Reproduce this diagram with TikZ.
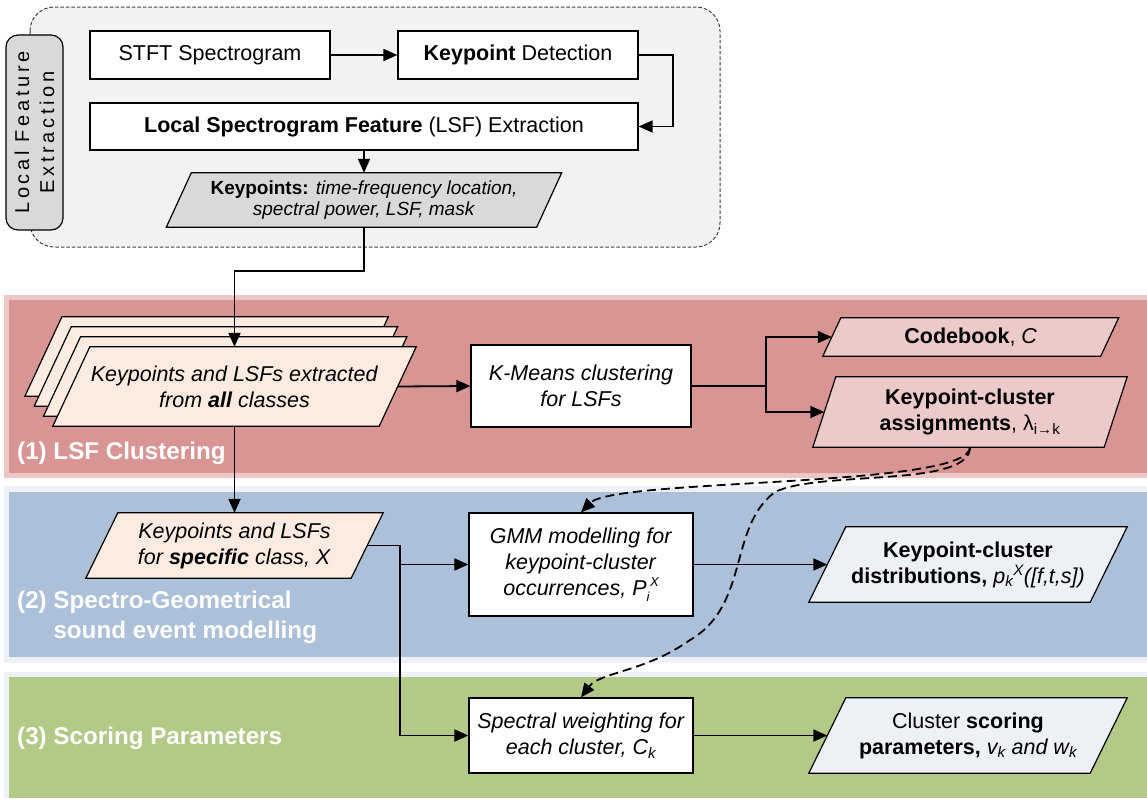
\documentclass[tikz,border=0pt]{standalone}
\usepackage{fontspec}
\setmainfont{Liberation Sans}
\newfontfamily\spacedfont[LetterSpace=18]{Liberation Sans}
\usetikzlibrary{arrows.meta}
\pgfdeclarelayer{bandlayer}
\pgfdeclarelayer{shapelayer}
\pgfsetlayers{bandlayer,shapelayer,main}
\definecolor{bandred}{HTML}{D99594}
\definecolor{ringred}{HTML}{EBC7C6}
\definecolor{bandblue}{HTML}{ADC0D9}
\definecolor{ringblue}{HTML}{EEF2F7}
\definecolor{bandgreen}{HTML}{B3C987}
\definecolor{ringgreen}{HTML}{EEF2F5}
\definecolor{groupgray}{HTML}{F2F2F2}
\definecolor{kpgray}{HTML}{D9D9D9}
\definecolor{peach}{HTML}{FCEBE0}
\definecolor{pinkout}{HTML}{EBCAC9}
\definecolor{blueout}{HTML}{EDF1F6}
\newcommand{\mainsz}{\fontsize{21.5}{26}\selectfont}
\newcommand{\kpsz}{\fontsize{19}{21.5}\selectfont}
\newcommand{\bandsz}{\fontsize{24.2}{30}\selectfont}
\newcommand{\subsup}[2]{\raisebox{-0.3em}{\fontsize{13}{13}\selectfont #1}\kern0.02em\raisebox{0.42em}{\fontsize{13}{13}\selectfont #2}}
\newcommand{\paral}[5]{%
  \path[draw=black, line width=1.2pt, fill=#3]
    ([xshift=#4+#2, yshift=#5]#1.north west) --
    ([xshift=#4+#2, yshift=#5]#1.north east) --
    ([xshift=#4-#2, yshift=#5]#1.south east) --
    ([xshift=#4-#2, yshift=#5]#1.south west) -- cycle;}
\tikzset{
  box/.style={draw=black, line width=1.2pt, fill=white, align=center, inner sep=2pt, font=\mainsz},
  paranode/.style={align=center, inner sep=0pt, font=\mainsz},
  conn/.style={line width=1.8pt, -{Triangle[length=14pt,width=12pt]}},
  dashconn/.style={line width=1.8pt, dash pattern=on 9pt off 5pt, -{Triangle[length=14pt,width=12pt]}},
  bandlabel/.style={text=white, font=\bandsz\bfseries, anchor=west, inner sep=0pt, align=left},
  lfebox/.style={draw=black, line width=1.2pt, fill=kpgray, rounded corners=12pt, rotate=90, align=center, font=\spacedfont\fontsize{20}{25}\selectfont, inner sep=0pt},
}
\begin{document}
\begin{tikzpicture}[x=1pt, y=-1pt]
\useasboundingbox (0,0) rectangle (1147,798);

% ---------- bands and group ----------
\begin{pgfonlayer}{bandlayer}
  \fill[ringred] (4,295) rectangle (1147,478);
  \fill[bandred] (9,300) rectangle (1147,473);
  \fill[ringblue] (4,486) rectangle (1147,663);
  \fill[bandblue] (9,492) rectangle (1147,657);
  \fill[ringgreen] (4,672) rectangle (1147,798);
  \fill[bandgreen] (9,677) rectangle (1147,798);
  \draw[draw=black!75, dash pattern=on 3.5pt off 2pt, line width=1pt, fill=groupgray, rounded corners=24pt] (30,7) rectangle (720,247);
\end{pgfonlayer}

% ---------- top section ----------
\node[lfebox, minimum width=195pt, minimum height=57pt] (lfe) at (34.5,132.5) {Local Feature\\Extraction};
\node[box, minimum width=240pt, minimum height=48pt] (stft) at (210,55) {STFT Spectrogram};
\node[box, minimum width=240pt, minimum height=48pt] (kpd) at (518,55) {\textbf{Keypoint} Detection};
\node[box, minimum width=548pt, minimum height=47pt] (lsf) at (364,126.5) {\textbf{Local Spectrogram Feature} (LSF) Extraction};
\node[paranode, font=\kpsz, minimum width=370pt, minimum height=54pt] (kp) at (364,200)
  {\textbf{Keypoints:} \textit{time-frequency location,}\\\textit{spectral power, LSF, mask}};

% ---------- band 1 ----------
\node[paranode, minimum width=326pt, minimum height=79pt] (all) at (234.5,386.5)
  {\textit{Keypoints and LSFs extracted}\\\textit{from \textbf{all} classes}};
\node[box, minimum width=220pt, minimum height=82pt] (km) at (581,386) {\textit{K-Means clustering}\\\textit{for LSFs}};
\node[paranode, minimum width=277.5pt, minimum height=38pt] (cb) at (970.75,337) {\textbf{Codebook}, \textit{C}};
\node[paranode, minimum width=291pt, minimum height=70pt] (asg) at (970,412)
  {\textbf{Keypoint-cluster}\\\textbf{assignments}, λ\textsubscript{i→k}};

% ---------- band 2 ----------
\node[paranode, minimum width=265pt, minimum height=65pt] (sx) at (234.5,545.5)
  {\textit{Keypoints and LSFs}\\\textit{for \textbf{specific} class, X}};
\node[box, minimum width=224pt, minimum height=103pt] (gmm) at (581,564.5)
  {\textit{GMM modelling for}\\\textit{keypoint-cluster}\\\textit{occurrences, P\subsup{i}{X}}};
\node[paranode, minimum width=281pt, minimum height=75pt] (dist) at (968,564.5)
  {\textbf{Keypoint-cluster}\\\textbf{distributions,} \textit{p\textsubscript{k}\textsuperscript{X}([f,t,s])}};

% ---------- band 3 ----------
\node[box, minimum width=224pt, minimum height=75pt] (spw) at (581,735.5)
  {\textit{Spectral weighting for}\\\textit{each cluster, C\textsubscript{k}}};
\node[paranode, minimum width=281pt, minimum height=75pt] (csp) at (968,735.5)
  {Cluster \textbf{scoring}\\\textbf{parameters,} \textit{v\textsubscript{k} and w\textsubscript{k}}};

% ---------- band labels ----------
\node[bandlabel] (l1) at (17,453) {(1) LSF Clustering};
\node[bandlabel] (l2) at (17,617) {\begin{tabular}{@{}l@{ }l@{}}(2)&Spectro-Geometrical\\&sound event modelling\end{tabular}};
\node[bandlabel] (l3) at (17,738) {(3) Scoring Parameters};

% ---------- parallelogram outlines ----------
\begin{pgfonlayer}{shapelayer}
  \paral{kp}{12.5pt}{kpgray}{0pt}{0pt}
  \paral{all}{18.5pt}{peach}{-27.9pt}{30pt}
  \paral{all}{18.5pt}{peach}{-18.6pt}{20pt}
  \paral{all}{18.5pt}{peach}{-9.3pt}{10pt}
  \paral{all}{18.5pt}{peach}{0pt}{0pt}
  \paral{cb}{9pt}{pinkout}{0pt}{0pt}
  \paral{asg}{11.5pt}{pinkout}{0pt}{0pt}
  \paral{sx}{16pt}{peach}{0pt}{0pt}
  \paral{dist}{18.5pt}{blueout}{0pt}{0pt}
  \paral{csp}{18.5pt}{blueout}{0pt}{0pt}
\end{pgfonlayer}

% ---------- connectors ----------
\draw[conn] (stft.east) -- (kpd.west);
\draw[conn] (kpd.east) -- ++(34,0) |- (lsf.east);
\draw[conn] (lsf.south) -- (kp.north);
\draw[conn] (kp.south) -- ++(0,44) -| (all.north);
\draw[conn] (all.east) -- (km.west);
\draw[conn] (km.east) -- ++(74.5,0) |- (cb.west);
\draw[conn] (km.east) -- ++(74.5,0) |- (asg.west);
\draw[conn] (all.south) -- (sx.north);
\draw[conn] (sx.east) -- ++(33,0) |- (gmm.west);
\draw[conn] (sx.east) -- ++(33,0) |- (spw.west);
\draw[conn] (gmm.east) -- (dist.west);
\draw[conn] (spw.east) -- (csp.west);
\draw[dashconn] (asg.south) .. controls (970,488) and (615,478) .. (gmm.north);
\draw[dashconn] (asg.south) .. controls (970,488) and (820,470) .. (775,492)
   .. controls (728,527) and (750,605) .. (690,640)
   .. controls (645,672) and (600,672) .. (spw.north);
\end{tikzpicture}
\end{document}
